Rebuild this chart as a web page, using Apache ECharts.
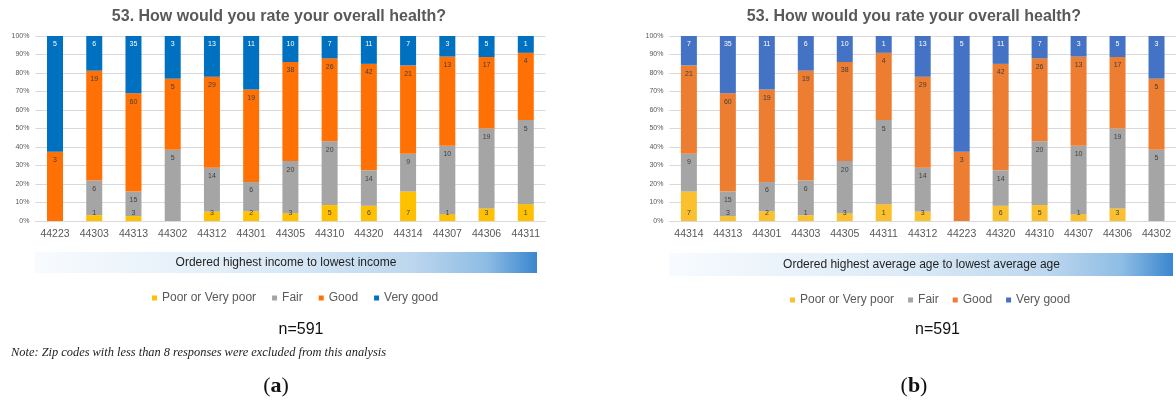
<!DOCTYPE html>
<html>
<head>
<meta charset="utf-8">
<script src="https://cdn.jsdelivr.net/npm/echarts@6/dist/echarts.min.js"></script>
<style>
  body { margin: 0; background: #fff; }
  #wrap { position: relative; width: 1176px; height: 405px; overflow: hidden; }
  .panel { position: absolute; top: 0; height: 405px; }
</style>
</head>
<body>
<div id="wrap">
  <div id="chartA" class="panel" style="left:0;width:580px"></div>
  <div id="chartB" class="panel" style="left:580px;width:596px"></div>
</div>
<script>
// zip codes, ordered highest income to lowest income
const zips = ['44223', '44303', '44313', '44302', '44312', '44301', '44305', '44310', '44320', '44314', '44307', '44306', '44311']
// response counts per zip (same order as zips)
const poor = [0, 1, 3, 0, 3, 2, 3, 5, 6, 7, 1, 3, 1]
const fair = [0, 6, 15, 5, 14, 6, 20, 20, 14, 9, 10, 19, 5]
const good = [3, 19, 60, 5, 29, 19, 38, 26, 42, 21, 13, 17, 4]
const veryGood = [5, 6, 35, 3, 13, 11, 10, 7, 11, 7, 3, 5, 1]
// zip codes, ordered highest average age to lowest average age
const ageOrder = ['44314', '44313', '44301', '44303', '44305', '44311', '44312', '44223', '44320', '44310', '44307', '44306', '44302']

const seriesNames = ['Poor or Very poor', 'Fair', 'Good', 'Very good']
const yTicks = [0, 10, 20, 30, 40, 50, 60, 70, 80, 90, 100]
const titleText = '53. How would you rate your overall health?'

const FONT = '"Liberation Sans", Arial, sans-serif'
const SERIF = '"Liberation Serif", "Times New Roman", serif'

// counts for a given zip order
const countsFor = (order) => {
  const idx = order.map(z => zips.indexOf(z))
  return [poor, fair, good, veryGood].map(arr => idx.map(i => arr[i]))
}

const buildOption = (order, cfg) => {
  const counts = countsFor(order)
  const totals = order.map((_, i) => counts.reduce((s, c) => s + c[i], 0))

  const series = seriesNames.map((name, k) => ({
    name,
    type: 'bar',
    stack: 'total',
    barWidth: 16,
    itemStyle: { color: cfg.colors[k] },
    label: {
      show: true,
      position: k === 0 ? 'insideBottom' : 'insideTop',
      distance: k === 0 ? 4 : 5,
      fontSize: 7,
      fontFamily: FONT,
      color: k === 3 ? '#ffffff' : '#404040',
      formatter: p => (counts[k][p.dataIndex] > 0 ? counts[k][p.dataIndex] : '')
    },
    data: counts[k].map((c, i) => (c / totals[i]) * 100)
  }))

  return {
    animation: false,
    grid: { left: cfg.gridLeft, width: cfg.gridWidth, top: 36, height: 185 },
    legend: {
      data: seriesNames,
      left: cfg.legendLeft,
      top: cfg.legendTop,
      padding: 0,
      icon: 'rect',
      itemWidth: 5,
      itemHeight: 5,
      itemGap: cfg.legendGap,
      textStyle: { fontSize: 12, color: '#595959', fontFamily: FONT }
    },
    xAxis: {
      type: 'category',
      data: order,
      axisTick: { show: false },
      axisLine: { lineStyle: { color: '#D9D9D9' } },
      axisLabel: { fontSize: 10.5, color: '#595959', margin: 8, fontFamily: FONT }
    },
    yAxis: {
      type: 'value',
      min: yTicks[0],
      max: yTicks[yTicks.length - 1],
      interval: yTicks[1] - yTicks[0],
      axisLabel: { formatter: '{value}%', fontSize: 7, color: '#595959', margin: 6, fontFamily: FONT },
      splitLine: { lineStyle: { color: '#D9D9D9' } }
    },
    graphic: [
      {
        type: 'text',
        x: cfg.titleX, y: 16.5,
        style: { text: titleText, font: 'bold 16px ' + FONT, fill: '#595959', align: 'center', verticalAlign: 'middle' }
      },
      {
        type: 'rect',
        shape: { x: cfg.banner[0], y: cfg.banner[1], width: cfg.banner[2], height: cfg.banner[3] },
        style: {
          fill: new echarts.graphic.LinearGradient(0, 0, 1, 0, [
            { offset: 0, color: '#F8FBFE' },
            { offset: 0.45, color: '#DDEBF7' },
            { offset: 0.75, color: '#BDD7EE' },
            { offset: 0.9, color: '#8DBCE4' },
            { offset: 1, color: '#3A86CF' }
          ])
        }
      },
      {
        type: 'text',
        x: cfg.bannerTextX, y: cfg.banner[1] + cfg.banner[3] / 2,
        style: { text: cfg.bannerText, font: '12px ' + FONT, fill: '#1F1F1F', align: 'center', verticalAlign: 'middle' }
      },
      {
        type: 'text',
        x: cfg.nX, y: 329.5,
        style: { text: 'n=591', font: '16px ' + FONT, fill: '#111', align: 'center', verticalAlign: 'middle' }
      },
      {
        type: 'text',
        x: cfg.capX, y: 386,
        style: {
          text: '(' + '{b|' + cfg.cap + '}' + ')',
          font: '22px ' + SERIF,
          fill: '#111',
          align: 'center',
          verticalAlign: 'middle',
          rich: { b: { fontWeight: 'bold', fontSize: 22, fontFamily: SERIF, fill: '#111' } }
        }
      }
    ].concat(cfg.note ? [{
      type: 'text',
      x: 11, y: 353,
      style: { text: cfg.note, font: 'italic 12.4px ' + SERIF, fill: '#222', verticalAlign: 'middle' }
    }] : []),
    series
  }
}

const chartA = echarts.init(document.getElementById('chartA'))
chartA.setOption(buildOption(zips, {
  colors: ['#FFC000', '#A5A5A5', '#FF7105', '#0070C0'],
  gridLeft: 35.4,
  gridWidth: 510,
  legendLeft: 152,
  legendTop: 292,
  legendGap: 16,
  titleX: 279,
  banner: [35, 252, 502, 21],
  bannerText: 'Ordered highest income to lowest income',
  bannerTextX: 286,
  nX: 301,
  cap: 'a',
  capX: 276,
  note: 'Note: Zip codes with less than 8 responses were excluded from this analysis'
}))

const chartB = echarts.init(document.getElementById('chartB'))
chartB.setOption(buildOption(ageOrder, {
  colors: ['#FBC02D', '#A5A5A5', '#ED7D31', '#4472C4'],
  gridLeft: 89.4,
  gridWidth: 510.6,
  legendLeft: 210,
  legendTop: 294,
  legendGap: 14,
  titleX: 334,
  banner: [89, 253, 504, 23],
  bannerText: 'Ordered highest average age to lowest average age',
  bannerTextX: 341.5,
  nX: 357.5,
  cap: 'b',
  capX: 334
}))

window.addEventListener('resize', () => {
  chartA.resize()
  chartB.resize()
})
</script>
</body>
</html>
